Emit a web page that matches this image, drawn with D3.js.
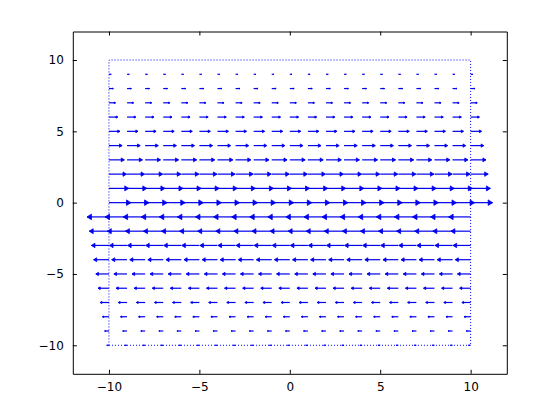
<!DOCTYPE html>
<html>
<head>
<meta charset="utf-8">
<script src="https://cdn.jsdelivr.net/npm/d3@7"></script>
<style>
  body { margin: 0; background: #fff; }
  svg { display: block; }
  .axis text { font-family: "DejaVu Sans", sans-serif; font-size: 12px; fill: #000; }
</style>
</head>
<body>
<div id="chart"></div>
<script>
// grid positions
var gridX = [-10, -9, -8, -7, -6, -5, -4, -3, -2, -1, 0, 1, 2, 3, 4, 5, 6, 7, 8, 9, 10];
var gridY = [-10, -9, -8, -7, -6, -5, -4, -3, -2, -1, 0, 1, 2, 3, 4, 5, 6, 7, 8, 9, 10];
// horizontal component per row (same for every column)
var uRow = [-1, -2, -3, -4, -5, -6, -7, -8, -9, -10, 10, 9, 8, 7, 6, 5, 4, 3, 2, 1, 0];
// vertical component per row
var vRow = [0, 0, 0, 0, 0, 0, 0, 0, 0, 0, 0, 0, 0, 0, 0, 0, 0, 0, 0, 0, 0];
// dotted frame around the grid
var frameX = [-10, 10];
var frameY = [-10, 10];
var xTicks = [-10, -5, 0, 5, 10];
var yTicks = [-10, -5, 0, 5, 10];

var W = 560, H = 420;
var margin = {left: 72.8, right: 53.2, top: 31.5, bottom: 46.2},
    width = W - margin.left - margin.right,
    height = H - margin.top - margin.bottom;

var svg = d3.select("#chart")
    .append("svg")
    .attr("width", W)
    .attr("height", H)
    .append("g")
    .attr("transform", "translate(" + margin.left + "," + margin.top + ")");

var xScale = d3.scaleLinear().domain([-12, 12]).range([0, width]),
    yScale = d3.scaleLinear().domain([-12, 12]).range([height, 0]);

// build arrow table
var arrows = [];
gridY.forEach(function (y, j) {
    gridX.forEach(function (x) {
        arrows.push({x: x, y: y, u: uRow[j], v: vRow[j]});
    });
});

// octave-style autoscale: 0.9 * grid diagonal / longest vector
var dx = (d3.max(gridX) - d3.min(gridX)) / gridX.length,
    dy = (d3.max(gridY) - d3.min(gridY)) / gridY.length,
    maxLen = d3.max(arrows, function (d) { return Math.sqrt(d.u * d.u + d.v * d.v); }),
    s = 0.9 * Math.sqrt(dx * dx + dy * dy) / maxLen,
    headSize = 0.2;

var plot = svg.append("g").attr("class", "quiver");

// dotted frame
var frameLine = d3.line()
    .x(function (d) { return xScale(d[0]); })
    .y(function (d) { return yScale(d[1]); });

plot.append("path")
    .datum([[frameX[0], frameY[0]], [frameX[1], frameY[0]], [frameX[1], frameY[1]], [frameX[0], frameY[1]], [frameX[0], frameY[0]]])
    .attr("d", frameLine)
    .attr("fill", "none")
    .attr("stroke", "#0000ff")
    .attr("stroke-width", 1)
    .attr("stroke-dasharray", "1,2");

var nonZero = arrows.filter(function (d) { return d.u !== 0 || d.v !== 0; });

// shafts
plot.selectAll(".shaft")
    .data(nonZero)
    .enter().append("line")
    .attr("class", "shaft")
    .attr("x1", function (d) { return xScale(d.x); })
    .attr("y1", function (d) { return yScale(d.y); })
    .attr("x2", function (d) { return xScale(d.x + s * d.u); })
    .attr("y2", function (d) { return yScale(d.y + s * d.v); })
    .attr("stroke", "#0000ee")
    .attr("stroke-width", 1.2);

// heads (small filled triangles)
plot.selectAll(".head")
    .data(nonZero)
    .enter().append("path")
    .attr("class", "head")
    .attr("d", function (d) {
        var tx = d.x + s * d.u, ty = d.y + s * d.v;
        var bx = d.x + s * d.u * (1 - headSize), by = d.y + s * d.v * (1 - headSize);
        var x1 = bx + (d.y - by) * headSize, y1 = by - (d.x - bx) * headSize;
        var x2 = bx - (d.y - by) * headSize, y2 = by + (d.x - bx) * headSize;
        return "M" + xScale(x1) + "," + yScale(y1) +
            "L" + xScale(tx) + "," + yScale(ty) +
            "L" + xScale(x2) + "," + yScale(y2) + "Z";
    })
    .attr("fill", "#0000ee")
    .attr("stroke", "#0000ee")
    .attr("stroke-width", 0.8)
    .attr("stroke-linejoin", "round");

// axes, ticks inside, mirrored on top/right
var tickLen = 4;
svg.append("g")
    .attr("class", "axis")
    .attr("transform", "translate(0," + height + ")")
    .call(d3.axisBottom(xScale).tickValues(xTicks).tickSizeInner(-tickLen).tickSizeOuter(0).tickPadding(9));

svg.append("g")
    .attr("class", "axis")
    .call(d3.axisLeft(yScale).tickValues(yTicks).tickSizeInner(-tickLen).tickSizeOuter(0).tickPadding(9));

svg.append("g")
    .attr("class", "axis")
    .call(d3.axisTop(xScale).tickValues(xTicks).tickSizeInner(-tickLen).tickSizeOuter(0).tickFormat(""));

svg.append("g")
    .attr("class", "axis")
    .attr("transform", "translate(" + width + ",0)")
    .call(d3.axisRight(yScale).tickValues(yTicks).tickSizeInner(-tickLen).tickSizeOuter(0).tickFormat(""));

svg.selectAll(".axis .domain").attr("stroke", "#000").attr("stroke-width", 1);
svg.selectAll(".axis .tick line").attr("stroke", "#000");
</script>
</body>
</html>
